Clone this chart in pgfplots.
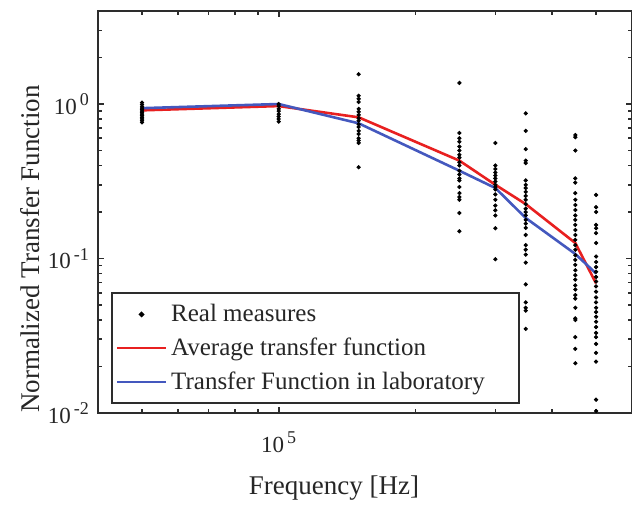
\documentclass[border=0pt]{standalone}
\usepackage{pgfplots}
\pgfplotsset{compat=1.18}
\usepackage{pgfplotstable}
\usepackage{fontspec}
\setmainfont{Liberation Serif}
\usetikzlibrary{calc}
\definecolor{avgred}{RGB}{232,32,32}
\definecolor{labblue}{RGB}{68,88,190}
\definecolor{axgray}{RGB}{45,45,45}
\newcommand\sps[1]{\raisebox{0.8ex}{\fontsize{9}{10}\selectfont\,#1}}

\pgfplotstableread{
x y
5e4 1.02
5e4 0.99
5e4 0.96
5e4 0.94
5e4 0.92
5e4 0.90
5e4 0.88
5e4 0.86
5e4 0.84
5e4 0.82
5e4 0.80
5e4 0.78
5e4 0.76
1e5 1.00
1e5 0.97
1e5 0.93
1e5 0.90
1e5 0.86
1e5 0.83
1e5 0.80
1e5 0.77
1.5e5 1.56
1.5e5 1.13
1.5e5 1.08
1.5e5 1.03
1.5e5 0.93
1.5e5 0.89
1.5e5 0.85
1.5e5 0.81
1.5e5 0.78
1.5e5 0.74
1.5e5 0.71
1.5e5 0.67
1.5e5 0.64
1.5e5 0.60
1.5e5 0.58
1.5e5 0.56
1.5e5 0.39
2.5e5 1.37
2.5e5 0.65
2.5e5 0.60
2.5e5 0.57
2.5e5 0.53
2.5e5 0.50
2.5e5 0.47
2.5e5 0.45
2.5e5 0.42
2.5e5 0.40
2.5e5 0.37
2.5e5 0.35
2.5e5 0.33
2.5e5 0.32
2.5e5 0.29
2.5e5 0.265
2.5e5 0.25
2.5e5 0.24
2.5e5 0.197
2.5e5 0.15
3e5 0.56
3e5 0.40
3e5 0.38
3e5 0.36
3e5 0.345
3e5 0.33
3e5 0.315
3e5 0.30
3e5 0.29
3e5 0.28
3e5 0.26
3e5 0.24
3e5 0.22
3e5 0.205
3e5 0.19
3e5 0.157
3e5 0.099
3.5e5 0.87
3.5e5 0.67
3.5e5 0.51
3.5e5 0.43
3.5e5 0.415
3.5e5 0.32
3.5e5 0.30
3.5e5 0.286
3.5e5 0.27
3.5e5 0.254
3.5e5 0.24
3.5e5 0.225
3.5e5 0.21
3.5e5 0.20
3.5e5 0.19
3.5e5 0.178
3.5e5 0.168
3.5e5 0.158
3.5e5 0.142
3.5e5 0.122
3.5e5 0.114
3.5e5 0.106
3.5e5 0.094
3.5e5 0.068
3.5e5 0.052
3.5e5 0.048
3.5e5 0.046
3.5e5 0.035
4.5e5 0.63
4.5e5 0.61
4.5e5 0.50
4.5e5 0.33
4.5e5 0.31
4.5e5 0.265
4.5e5 0.24
4.5e5 0.222
4.5e5 0.206
4.5e5 0.19
4.5e5 0.178
4.5e5 0.165
4.5e5 0.153
4.5e5 0.142
4.5e5 0.132
4.5e5 0.122
4.5e5 0.114
4.5e5 0.105
4.5e5 0.098
4.5e5 0.091
4.5e5 0.084
4.5e5 0.078
4.5e5 0.073
4.5e5 0.067
4.5e5 0.063
4.5e5 0.058
4.5e5 0.055
4.5e5 0.048
4.5e5 0.041
4.5e5 0.040
4.5e5 0.031
4.5e5 0.026
4.5e5 0.021
5e5 0.258
5e5 0.215
5e5 0.20
5e5 0.165
5e5 0.157
5e5 0.146
5e5 0.126
5e5 0.103
5e5 0.095
5e5 0.088
5e5 0.082
5e5 0.076
5e5 0.071
5e5 0.066
5e5 0.061
5e5 0.056
5e5 0.052
5e5 0.048
5e5 0.045
5e5 0.042
5e5 0.039
5e5 0.036
5e5 0.033
5e5 0.031
5e5 0.028
5e5 0.0245
5e5 0.0215
5e5 0.0122
5e5 0.0103
}\measures

\pgfplotstableread{
x y
5e4 0.91
1e5 0.97
1.5e5 0.82
2.5e5 0.43
3e5 0.30
3.5e5 0.225
4.5e5 0.126
5e5 0.069
}\avgtf

\pgfplotstableread{
x y
5e4 0.94
1e5 1.00
1.5e5 0.75
2.5e5 0.37
3e5 0.286
3.5e5 0.183
4.5e5 0.107
5e5 0.080
}\labtf

\begin{document}
\begin{tikzpicture}
\begin{loglogaxis}[
  scale only axis, width=267pt, height=201pt,
  xmin=4e4, xmax=6e5, ymin=0.01, ymax=4,
  axis line style={axgray, line width=1.1pt},
  every tick/.style={axgray, line width=0.8pt},
  tick align=inside,
  major tick length=3.2pt, minor tick length=2pt,
  xtick={1e5}, xticklabels={10\sps{5}},
  minor xtick={5e4,6e4,7e4,8e4,9e4,2e5,3e5,4e5,5e5},
  ytick={0.01,0.1,1},
  yticklabels={10\sps{-2},10\sps{-1},10\sps{0}},
  minor ytick={0.02,0.03,0.04,0.05,0.06,0.07,0.08,0.09,0.2,0.3,0.4,0.5,0.6,0.7,0.8,0.9,2,3},
  ticklabel style={font=\fontsize{11.5}{13}\selectfont, text=black!85},
  xticklabel style={yshift=-6pt},
  yticklabel style={xshift=-1pt},
  xlabel={Frequency [Hz]},
  ylabel={Normalized Transfer Function},
  every axis x label/.style={at={(axis description cs:0.442,-0.1866)}, anchor=center, font=\fontsize{13.5}{15}\selectfont, text=black!85},
  every axis y label/.style={at={(axis description cs:-0.1273,0.408)}, rotate=90, anchor=center, font=\fontsize{13.5}{15}\selectfont, text=black!85},
  legend image code/.code={\draw[mark repeat=2,mark phase=2,#1] plot coordinates {(0cm,0cm) (0.43cm,0cm) (0.86cm,0cm)};},
  legend style={at={(0.024,0.022)}, anchor=south west, draw=axgray, line width=1pt, fill=white,
    font=\fontsize{12.5}{14}\selectfont, text=black!85, row sep=2.6pt, inner xsep=2pt, inner ysep=3.5pt},
  legend cell align=left,
]
\addlegendimage{only marks, mark=*, mark size=0.85pt, black}
\addlegendimage{avgred, line width=1.2pt}
\addlegendimage{labblue, line width=1.2pt}
\addplot[avgred, line width=1.3pt, forget plot] table[x=x,y=y] {\avgtf};
\addplot[labblue, line width=1.3pt, forget plot] table[x=x,y=y] {\labtf};
\addplot[only marks, mark=*, mark size=0.85pt, black, forget plot] table[x=x,y=y] {\measures};
\legend{Real measures, Average transfer function, Transfer Function in laboratory\rule{13pt}{0pt}}
\end{loglogaxis}
\pgfresetboundingbox
\path ($(current axis.south west)+(-49pt,-45.5pt)$) rectangle ($(current axis.north east)+(0pt,5.5pt)$);
\end{tikzpicture}
\end{document}
